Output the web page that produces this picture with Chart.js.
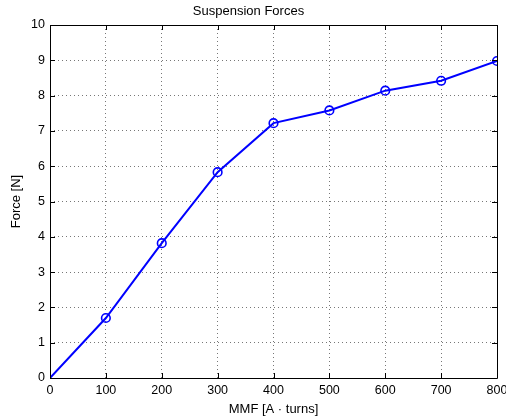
<!DOCTYPE html>
<html lang="en">
<head>
<meta charset="UTF-8" />
<title>Suspension Forces</title>
<script src="https://cdn.jsdelivr.net/npm/chart.js"></script>
<style>
  html, body { margin: 0; padding: 0; background: #fff; }
  #wrap { width: 506px; height: 419px; }
</style>
</head>
<body>
<div id="wrap"><canvas id="forceChart" width="506" height="419"></canvas></div>
<script>
    // values
    const mmf = [0, 100, 200, 300, 400, 500, 600, 700, 800];
    const force = [0, 1.70, 3.82, 5.83, 7.22, 7.58, 8.14, 8.42, 8.98];

    const FONT = "'Liberation Sans', Arial, Helvetica, sans-serif";

    // matlab style frame with ticks pointing inward
    const frame = {
        id: 'frame',
        afterDraw(chart) {
            const { ctx, chartArea: a, scales } = chart;
            ctx.save();
            ctx.strokeStyle = '#000';
            ctx.lineWidth = 1;
            ctx.beginPath();
            ctx.rect(Math.round(a.left) + 0.5, Math.round(a.top) + 0.5,
                Math.round(a.right - a.left), Math.round(a.bottom - a.top));
            scales.x.ticks.forEach(t => {
                const x = Math.round(scales.x.getPixelForValue(t.value)) + 0.5;
                ctx.moveTo(x, a.bottom); ctx.lineTo(x, a.bottom - 5);
                ctx.moveTo(x, a.top); ctx.lineTo(x, a.top + 5);
            });
            scales.y.ticks.forEach(t => {
                const y = Math.round(scales.y.getPixelForValue(t.value)) + 0.5;
                ctx.moveTo(a.left, y); ctx.lineTo(a.left + 5, y);
                ctx.moveTo(a.right, y); ctx.lineTo(a.right - 5, y);
            });
            ctx.stroke();
            ctx.restore();
        }
    };

    new Chart(document.getElementById('forceChart'), {
        type: 'line',
        data: {
            datasets: [{
                data: mmf.map((m, i) => ({ x: m, y: force[i] })),
                borderColor: '#0000ff',
                borderWidth: 2,
                pointBorderColor: '#0000ff',
                pointBackgroundColor: 'rgba(0,0,0,0)',
                pointBorderWidth: 1.6,
                pointRadius: ctx => ctx.dataIndex === 0 ? 0 : 4.3,
                tension: 0,
                fill: false
            }]
        },
        plugins: [frame],
        options: {
            responsive: false,
            animation: false,
            layout: { padding: { left: 0, right: 9, top: 0, bottom: 0 } },
            plugins: {
                legend: { display: false },
                tooltip: { enabled: false },
                title: {
                    display: true,
                    text: 'Suspension Forces',
                    color: '#000',
                    font: { family: FONT, size: 13, weight: 'normal' },
                    padding: { top: 4, bottom: 5.4 }
                }
            },
            scales: {
                x: {
                    type: 'linear',
                    min: 0,
                    max: 800,
                    afterFit: s => { s.height = 41; s.paddingLeft = 0; s.paddingRight = 0; },
                    ticks: { stepSize: 100, color: '#000', padding: 5, font: { family: FONT, size: 12.5 } },
                    grid: { color: '#777', lineWidth: 1, drawTicks: false },
                    border: { display: false, dash: [1, 3] },
                    title: {
                        display: true,
                        text: 'MMF [A \u00b7 turns]',
                        color: '#000',
                        font: { family: FONT, size: 13 },
                        padding: { top: 0, bottom: 2 }
                    }
                },
                y: {
                    min: 0,
                    max: 10,
                    afterFit: s => { s.width = 50; s.paddingTop = 0; s.paddingBottom = 0; },
                    ticks: { stepSize: 1, color: '#000', padding: 5, font: { family: FONT, size: 12.5 } },
                    grid: { color: '#777', lineWidth: 1, drawTicks: false },
                    border: { display: false, dash: [1, 3] },
                    title: {
                        display: true,
                        text: 'Force [N]',
                        color: '#000',
                        font: { family: FONT, size: 13 },
                        padding: { top: 9, bottom: 0 }
                    }
                }
            }
        }
    });
</script>
</body>
</html>
